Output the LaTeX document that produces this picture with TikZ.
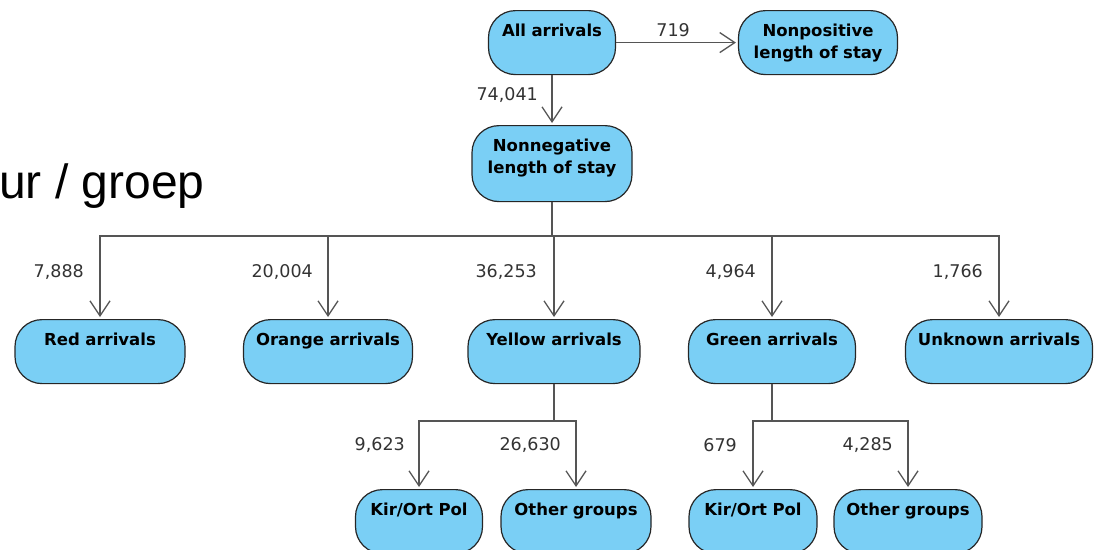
\documentclass[tikz,border=0pt]{standalone}
\usepackage{fontspec}
\setmainfont{DejaVu Sans}
\newfontfamily\titlefont{Liberation Sans}
\usetikzlibrary{arrows.meta}
\definecolor{boxblue}{HTML}{7ACFF5}
\definecolor{linegray}{HTML}{555555}
\definecolor{numgray}{HTML}{333333}
\tikzset{
  stage/.style={draw=black!85, fill=boxblue, line width=1.2pt, rounded corners=27pt,
    anchor=north, inner xsep=4pt, inner ysep=8pt, text height=18pt, text depth=30pt,
    align=center, font=\fontsize{16.5}{22}\selectfont\bfseries},
  flow/.style={draw=linegray, line width=1.3pt, shorten >=2pt,
    -{Straight Barb[length=15pt,width=20pt]}},
  count/.style={anchor=east, inner sep=0pt, text=numgray, font=\fontsize{17.5}{20}\selectfont},
}
\begin{document}
\begin{tikzpicture}[x=1pt,y=-1pt]
      \useasboundingbox (0,0) rectangle (1097,549);
      \node[anchor=base west, inner sep=0pt, font=\titlefont\fontsize{48}{52}\selectfont] (title) at (-1,198) {ur / groep};
      % stages
      \node[stage, text width=119pt] (all) at (552,10) {All arrivals};
      \node[stage, text width=151pt] (nonpos) at (818,10) {Nonpositive\\length of stay};
      \node[stage, text width=152pt, text depth=42pt] (nonneg) at (552,125) {Nonnegative\\length of stay};
      \node[stage, text width=162pt] (red) at (100,319) {Red arrivals};
      \node[stage, text width=161pt] (orange) at (328,319) {Orange arrivals};
      \node[stage, text width=164pt] (yellow) at (554,319) {Yellow arrivals};
      \node[stage, text width=159pt] (green) at (772,319) {Green arrivals};
      \node[stage, text width=179pt] (unknown) at (999,319) {Unknown arrivals};
      \node[stage, text width=119pt] (kirY) at (419,489) {Kir/Ort Pol};
      \node[stage, text width=142pt] (otherY) at (576,489) {Other groups};
      \node[stage, text width=120pt] (kirG) at (753,489) {Kir/Ort Pol};
      \node[stage, text width=140pt] (otherG) at (908,489) {Other groups};
      % connectors
      \coordinate (bus) at (0,236);
      \coordinate (subbus) at (0,421);
      \draw[flow] (all.east) -- (nonpos.west);
      \draw[flow] (all.south) -- (nonneg.north);
      \foreach \n in {red,orange,yellow,green,unknown}
        \draw[flow] (nonneg.south) -- (nonneg.south |- bus) -| (\n.north);
      \foreach \n in {kirY,otherY}
        \draw[flow] (yellow.south) -- (yellow.south |- subbus) -| (\n.north);
      \foreach \n in {kirG,otherG}
        \draw[flow] (green.south) -- (green.south |- subbus) -| (\n.north);
      % counts
      \node[count] (c-nonpos) at (690,30) {719};
      \node[count] (c-nonneg) at (538,95) {74,041};
      \node[count] (c-red) at (84,272) {7,888};
      \node[count] (c-orange) at (313,272) {20,004};
      \node[count] (c-yellow) at (537,272) {36,253};
      \node[count] (c-green) at (756,272) {4,964};
      \node[count] (c-unknown) at (983,272) {1,766};
      \node[count] (c-kirY) at (405,445) {9,623};
      \node[count] (c-otherY) at (561,445) {26,630};
      \node[count] (c-kirG) at (737,445) {679};
      \node[count] (c-otherG) at (893,445) {4,285};
\end{tikzpicture}
\end{document}
